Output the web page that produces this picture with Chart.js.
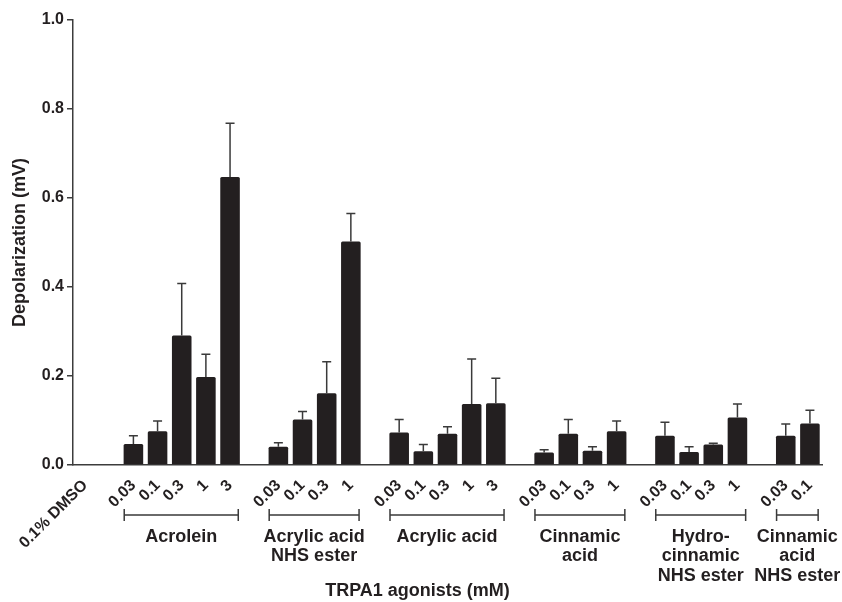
<!DOCTYPE html>
<html>
<head>
<meta charset="utf-8">
<script src="https://cdn.jsdelivr.net/npm/chart.js@4/dist/chart.umd.min.js"></script>
<style>
  html, body { margin: 0; padding: 0; background: #ffffff; }
  #wrap { width: 842px; height: 602px; position: relative; }
</style>
</head>
<body>
<div id="wrap"><canvas id="c"></canvas></div>
<script>
// ---- data ----
const controlLabel = '0.1% DMSO';
const controlMean = null;
const controlSEM = null;

const groupNames = [
  ['Acrolein'],
  ['Acrylic acid', 'NHS ester'],
  ['Acrylic acid'],
  ['Cinnamic', 'acid'],
  ['Hydro-', 'cinnamic', 'NHS ester'],
  ['Cinnamic', 'acid', 'NHS ester']
];
const groupDoses = [
  ['0.03', '0.1', '0.3', '1', '3'],
  ['0.03', '0.1', '0.3', '1'],
  ['0.03', '0.1', '0.3', '1', '3'],
  ['0.03', '0.1', '0.3', '1'],
  ['0.03', '0.1', '0.3', '1'],
  ['0.03', '0.1']
];
const groupMeans = [
  [0.047, 0.076, 0.291, 0.198, 0.647],
  [0.041, 0.102, 0.161, 0.502],
  [0.073, 0.031, 0.070, 0.137, 0.139],
  [0.028, 0.070, 0.032, 0.076],
  [0.066, 0.029, 0.046, 0.107],
  [0.066, 0.093]
];
const groupSEM = [
  [0.019, 0.023, 0.117, 0.051, 0.121],
  [0.009, 0.018, 0.071, 0.063],
  [0.029, 0.015, 0.016, 0.101, 0.056],
  [0.006, 0.032, 0.009, 0.023],
  [0.030, 0.012, 0.003, 0.030],
  [0.026, 0.030]
];
const yTicks = [0, 0.2, 0.4, 0.6, 0.8, 1.0];
const xTitle = 'TRPA1 agonists (mM)';
const yTitle = 'Depolarization (mV)';

// ---- build category table (blank slot between groups) ----
const labels = [controlLabel];
const means = [controlMean];
const sems = [controlSEM];
const groupRanges = [];
groupDoses.forEach((doses, g) => {
  labels.push(''); means.push(null); sems.push(null);
  const start = labels.length;
  doses.forEach((d, i) => {
    labels.push(d); means.push(groupMeans[g][i]); sems.push(groupSEM[g][i]);
  });
  groupRanges.push([start, labels.length - 1]);
});

const FONT = '"Liberation Sans", Arial, Helvetica, sans-serif';
const INK = '#231f20';
const AXIS = '#3c3c3c';

const errorBars = {
  id: 'errorBars',
  afterDatasetsDraw(chart) {
    const ctx = chart.ctx;
    const y = chart.scales.y;
    const meta = chart.getDatasetMeta(0);
    ctx.save();
    ctx.strokeStyle = '#3a3a3a';
    ctx.lineWidth = 1.5;
    meta.data.forEach((bar, i) => {
      if (means[i] == null || sems[i] == null) return;
      const top = y.getPixelForValue(means[i] + sems[i]);
      ctx.beginPath();
      ctx.moveTo(bar.x, bar.y);
      ctx.lineTo(bar.x, top);
      ctx.moveTo(bar.x - 4.5, top);
      ctx.lineTo(bar.x + 4.5, top);
      ctx.stroke();
    });
    ctx.restore();
  }
};

const groupAnnot = {
  id: 'groupAnnot',
  afterDraw(chart) {
    const ctx = chart.ctx;
    const xs = chart.scales.x;
    const slot = xs.getPixelForValue(1) - xs.getPixelForValue(0);
    const bY = 515;
    ctx.save();
    ctx.strokeStyle = '#3a3a3a';
    ctx.lineWidth = 1.5;
    ctx.fillStyle = INK;
    ctx.font = 'bold 18px ' + FONT;
    ctx.textAlign = 'center';
    ctx.textBaseline = 'middle';
    groupRanges.forEach(([a, b], g) => {
      const x0 = xs.getPixelForValue(a) - 0.38 * slot;
      const x1 = xs.getPixelForValue(b) + 0.34 * slot;
      ctx.beginPath();
      ctx.moveTo(x0, bY); ctx.lineTo(x1, bY);
      ctx.moveTo(x0, bY - 6); ctx.lineTo(x0, bY + 6);
      ctx.moveTo(x1, bY - 6); ctx.lineTo(x1, bY + 6);
      ctx.stroke();
      const cx = (x0 + x1) / 2;
      groupNames[g].forEach((line, k) => {
        ctx.fillText(line, cx, 537 + k * 19.5);
      });
    });
    const ca = chart.chartArea;
    ctx.fillText(xTitle, (ca.left + ca.right) / 2 - 30, 591);
    ctx.restore();
  }
};

new Chart(document.getElementById('c'), {
  type: 'bar',
  data: {
    labels: labels,
    datasets: [{
      data: means,
      backgroundColor: INK,
      borderWidth: 0,
      borderRadius: 1.5,
      categoryPercentage: 1.0,
      barPercentage: 0.81
    }]
  },
  options: {
    responsive: true,
    maintainAspectRatio: false,
    animation: false,
    layout: { padding: { top: 20, right: 20, left: 0, bottom: 0 } },
    plugins: { legend: { display: false }, tooltip: { enabled: false } },
    scales: {
      x: {
        offset: true,
        grid: { display: false },
        border: { display: true, color: AXIS, width: 1.5 },
        ticks: {
          autoSkip: false,
          maxRotation: 45,
          minRotation: 45,
          padding: 3,
          color: INK,
          font: { family: FONT, size: 16, weight: 'bold' }
        },
        afterFit(s) { s.height = 137; }
      },
      y: {
        min: 0,
        max: 1,
        afterBuildTicks(s) { s.ticks = yTicks.map(v => ({ value: v })); },
        grid: { display: true, drawOnChartArea: false, drawTicks: true, tickLength: 6, color: AXIS, lineWidth: 1.5 },
        border: { display: true, color: AXIS, width: 1.5 },
        ticks: {
          padding: 3,
          color: INK,
          font: { family: FONT, size: 16, weight: 'bold' },
          callback: v => Number(v).toFixed(1)
        },
        title: {
          display: true,
          text: yTitle,
          color: INK,
          font: { family: FONT, size: 18, weight: 'bold' },
          padding: { top: 9, bottom: 0 }
        },
        afterFit(s) { s.width = 73; }
      }
    }
  },
  plugins: [errorBars, groupAnnot]
});
</script>
</body>
</html>
